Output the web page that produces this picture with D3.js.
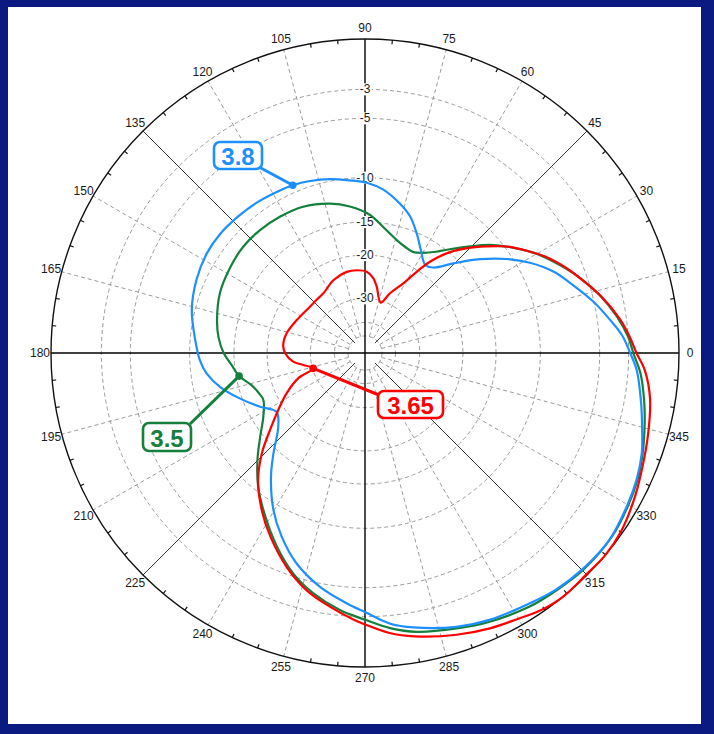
<!DOCTYPE html>
<html>
<head>
<meta charset="utf-8">
<script src="https://cdn.jsdelivr.net/npm/d3@7"></script>
<style>
  html, body { margin: 0; padding: 0; background: #0a1a80; }
  svg { display: block; }
</style>
</head>
<body>
<svg id="chart" width="714" height="734"></svg>
<script>
// Angle gridlines / labels (degrees, counter-clockwise from the right)
const angleTicks = d3.range(0, 360, 15);
// Labelled dB rings on the ARRL log-periodic scale
const dbRings = [-3, -5, -10, -15, -20, -30];
// Unlabelled inner rings
const innerRings = [-40, -50];

// Radiation patterns: [angle in degrees, relative gain in dB]
const pattern38 = [
  [0,-2.9],[4,-3.4],[7.7,-4.1],[12.7,-5.05],[18.1,-6.2],[23.4,-7.3],[28.7,-8.8],[33.5,-10.5],
  [39.3,-12.9],[45.4,-15.7],[51.4,-18.1],[55.7,-18.5],[61.6,-16.9],[66.6,-15.1],[71.7,-13.4],
  [76.8,-12.3],[83.6,-11.1],[89.4,-10.5],[95,-10.2],[101.4,-9.8],[107.7,-9.5],[113.3,-9.3],
  [118.9,-9.2],[125.9,-9.05],[133,-8.95],[140.5,-8.85],[147.8,-8.9],[156.6,-9.2],[166.1,-9.7],
  [175.6,-10.5],[182.4,-11.0],[187.3,-11.6],[193.1,-12.8],[199.9,-14.7],[207.1,-16.8],
  [213.6,-18.6],[220.4,-17.4],[227.6,-14.4],[232.7,-12.1],[239.7,-9.4],[245.6,-7.6],[252,-6.0],
  [259.1,-4.75],[265.8,-3.85],[270,-3.3],[275.5,-2.45],[280,-2.05],[288.5,-1.44],[295,-1.1],
  [303.4,-0.8],[309,-0.55],[315.4,-0.4],[322.6,-0.35],[330,-0.6],[335,-0.8],[340,-1.1],
  [345,-1.55],[350,-1.95],[356.4,-2.45]
];

const pattern35 = [
  [0,-2.7],[3.5,-3.0],[8.2,-3.6],[13.9,-4.5],[19.2,-5.5],[24.3,-6.6],[30.1,-7.9],[35.5,-9.4],
  [40.8,-11.0],[45.4,-12.7],[51.6,-14.9],[55,-16.0],[59.8,-17.1],[64.5,-17.7],[69,-17.5],
  [74.3,-16.9],[81.8,-15.5],[87.9,-14.1],[95.9,-13.0],[103.2,-12.3],[112.9,-11.7],[122,-11.5],
  [130.5,-11.4],[138.9,-11.4],[147.4,-11.6],[157.6,-11.9],[167.5,-12.5],[174,-13.0],[180,-13.7],
  [185,-14.6],[190.4,-15.4],[195.8,-16.8],[200,-17.4],[204.8,-17.7],[212.1,-16.5],[218.6,-14.6],
  [224.8,-12.5],[231.4,-10.4],[238.6,-8.5],[245.5,-6.7],[252,-5.2],[257.9,-4.2],[264.4,-3.35],
  [270,-2.8],[275.2,-2.2],[280.5,-1.75],[288.4,-1.35],[294.9,-1.0],[303,-0.65],[309,-0.5],
  [315.2,-0.35],[323.5,-0.35],[330,-0.55],[335,-0.75],[340,-1.05],[345,-1.4],[350,-1.75],
  [355.8,-2.2]
];

const pattern365 = [
  [0,-2.5],[3.5,-2.9],[7.4,-3.4],[12.9,-4.3],[17.5,-5.2],[22.8,-6.2],[27.9,-7.3],[32.3,-8.5],
  [36.9,-9.8],[41.3,-11.4],[45.8,-13.1],[50.7,-15.3],[54.6,-17.7],[57.5,-20.3],[61.2,-23.6],
  [67.3,-27.1],[72.7,-30.6],[80,-26.4],[83.7,-24.5],[88.8,-23.2],[95.7,-22.8],[102.7,-22.8],
  [113.5,-23.6],[124.9,-25.1],[132.3,-25.3],[139.9,-25.3],[154.2,-24.4],[165.9,-23.3],
  [174.4,-23.0],[180.2,-23.5],[186.9,-25.2],[191,-27.6],[196.5,-30.2],[200.8,-25.4],
  [207.2,-21.8],[213.3,-19.0],[219,-16.2],[224.2,-13.4],[230,-10.9],[236.7,-8.8],[242.7,-7.2],
  [249.9,-5.5],[256.2,-4.3],[262.1,-3.5],[267.5,-2.8],[270,-2.5],[275,-1.9],[280,-1.5],
  [288,-1.0],[294.4,-0.65],[300,-0.4],[304,-0.15],[309,0],[315,-0.05],[320,0],[325,-0.1],
  [331,-0.4],[337,-0.75],[344,-1.1],[351,-1.45],[356.5,-1.95]
];

// Series names, colours and the point each callout points at
const seriesNames = ["3.5", "3.8", "3.65"];
const seriesData = [pattern35, pattern38, pattern365];
const seriesColors = ["#157f3e", "#1e8fff", "#ff0000"];
const calloutAngles = [190.4, 113.3, 196.5];

// ---- layout ----
const cx = 365, cy = 353, R = 314;
const calloutBoxes = [
  { x: 143, y: 423, w: 48, h: 28, attach: [190, 424] },
  { x: 214, y: 142, w: 48, h: 27, attach: [259, 167] },
  { x: 378, y: 391, w: 65, h: 27, attach: [379, 395] }
];

const svg = d3.select("#chart");
svg.append("rect").attr("x", 8).attr("y", 7).attr("width", 693).attr("height", 717)
  .attr("fill", "#fff");

const g = svg.append("g").attr("transform", `translate(${cx},${cy})`);

// ARRL log-periodic radial scale: radius ∝ 0.89^(-dB/2)
const unit = db => Math.pow(0.89, -db / 2);
const rLin = d3.scaleLinear().domain([0, 1]).range([0, R]);
const radius = db => rLin(unit(db));
// compass angle (ccw from east) -> d3 radial angle (cw from north)
const ang = d3.scaleLinear().domain([0, 360]).range([Math.PI / 2, Math.PI / 2 - 2 * Math.PI]);

const gridGray = "#9c9c9c";
const innerR = radius(-50);

// dashed rings
g.append("g").selectAll("circle")
  .data(dbRings.concat(innerRings))
  .join("circle")
  .attr("r", d => radius(d))
  .attr("fill", "none")
  .attr("stroke", gridGray)
  .attr("stroke-width", 1)
  .attr("stroke-dasharray", "4 3");

// dashed spokes every 15°
g.append("g").selectAll("line")
  .data(angleTicks.filter(t => t % 45 !== 0))
  .join("line")
  .attr("x1", d => d3.pointRadial(ang(d), innerR)[0])
  .attr("y1", d => d3.pointRadial(ang(d), innerR)[1])
  .attr("x2", d => d3.pointRadial(ang(d), R)[0])
  .attr("y2", d => d3.pointRadial(ang(d), R)[1])
  .attr("stroke", gridGray)
  .attr("stroke-width", 1)
  .attr("stroke-dasharray", "4 3");

// diagonal solid spokes
g.append("g").selectAll("line")
  .data([45, 135, 225, 315])
  .join("line")
  .attr("x1", d => d3.pointRadial(ang(d), 14)[0])
  .attr("y1", d => d3.pointRadial(ang(d), 14)[1])
  .attr("x2", d => d3.pointRadial(ang(d), R)[0])
  .attr("y2", d => d3.pointRadial(ang(d), R)[1])
  .attr("stroke", "#3a3a3a")
  .attr("stroke-width", 1);

// main axes
g.append("g").selectAll("line")
  .data([0, 90])
  .join("line")
  .attr("x1", d => d3.pointRadial(ang(d), R)[0])
  .attr("y1", d => d3.pointRadial(ang(d), R)[1])
  .attr("x2", d => d3.pointRadial(ang(d + 180), R)[0])
  .attr("y2", d => d3.pointRadial(ang(d + 180), R)[1])
  .attr("stroke", "#000")
  .attr("stroke-width", 1.4);

// outer circle and 5° ticks
g.append("circle").attr("r", R).attr("fill", "none")
  .attr("stroke", "#111").attr("stroke-width", 1.4);
g.append("g").selectAll("line")
  .data(d3.range(0, 360, 5).filter(t => t % 15 !== 0))
  .join("line")
  .attr("x1", d => d3.pointRadial(ang(d), R - 4)[0])
  .attr("y1", d => d3.pointRadial(ang(d), R - 4)[1])
  .attr("x2", d => d3.pointRadial(ang(d), R)[0])
  .attr("y2", d => d3.pointRadial(ang(d), R)[1])
  .attr("stroke", "#111")
  .attr("stroke-width", 1.2);

// angle labels
g.append("g").selectAll("text")
  .data(angleTicks)
  .join("text")
  .attr("x", d => d3.pointRadial(ang(d), R + 11)[0])
  .attr("y", d => d3.pointRadial(ang(d), R + 11)[1])
  .attr("text-anchor", "middle")
  .attr("dominant-baseline", "central")
  .attr("font-family", "Liberation Sans, Arial, sans-serif")
  .attr("font-size", 12)
  .attr("fill", "#1a1a1a")
  .text(d => d);

// dB ring labels on the 90° axis, with a white backing
const dbLabels = g.append("g");
dbRings.forEach(db => {
  const y = -radius(db);
  const t = dbLabels.append("text")
    .attr("x", 0).attr("y", y)
    .attr("text-anchor", "middle")
    .attr("dominant-baseline", "central")
    .attr("font-family", "Liberation Sans, Arial, sans-serif")
    .attr("font-size", 12)
    .attr("fill", "#1a1a1a")
    .text(db);
  const bb = t.node().getBBox();
  dbLabels.insert("rect", () => t.node())
    .attr("x", bb.x - 1).attr("y", bb.y + 1)
    .attr("width", bb.width + 2).attr("height", bb.height - 2)
    .attr("fill", "#fff");
});

// pattern curves
const line = d3.lineRadial()
  .angle(d => ang(d[0]))
  .radius(d => radius(d[1]))
  .curve(d3.curveCatmullRomClosed.alpha(0.5));

const curves = g.append("g");
seriesData.forEach((data, i) => {
  curves.append("path")
    .datum(data)
    .attr("d", line)
    .attr("fill", "none")
    .attr("stroke", seriesColors[i])
    .attr("stroke-width", 2.2)
    .attr("stroke-linejoin", "round");
});

// callouts
const callouts = svg.append("g");
seriesData.forEach((data, i) => {
  const pt = data.find(d => d[0] === calloutAngles[i]);
  const p = d3.pointRadial(ang(pt[0]), radius(pt[1]));
  const dot = [cx + p[0], cy + p[1]];
  const b = calloutBoxes[i];
  const c = seriesColors[i];
  callouts.append("line")
    .attr("x1", b.attach[0]).attr("y1", b.attach[1])
    .attr("x2", dot[0]).attr("y2", dot[1])
    .attr("stroke", c).attr("stroke-width", 3);
  callouts.append("circle")
    .attr("cx", dot[0]).attr("cy", dot[1]).attr("r", 3.8)
    .attr("fill", c);
  callouts.append("rect")
    .attr("x", b.x).attr("y", b.y).attr("width", b.w).attr("height", b.h)
    .attr("rx", 6).attr("ry", 6)
    .attr("fill", "#fff").attr("stroke", c).attr("stroke-width", 2.6);
  callouts.append("text")
    .attr("x", b.x + b.w / 2).attr("y", b.y + b.h / 2 + 1)
    .attr("text-anchor", "middle")
    .attr("dominant-baseline", "central")
    .attr("font-family", "Liberation Sans, Arial, sans-serif")
    .attr("font-weight", "bold")
    .attr("font-size", 24)
    .attr("fill", c)
    .text(seriesNames[i]);
});
</script>
</body>
</html>
